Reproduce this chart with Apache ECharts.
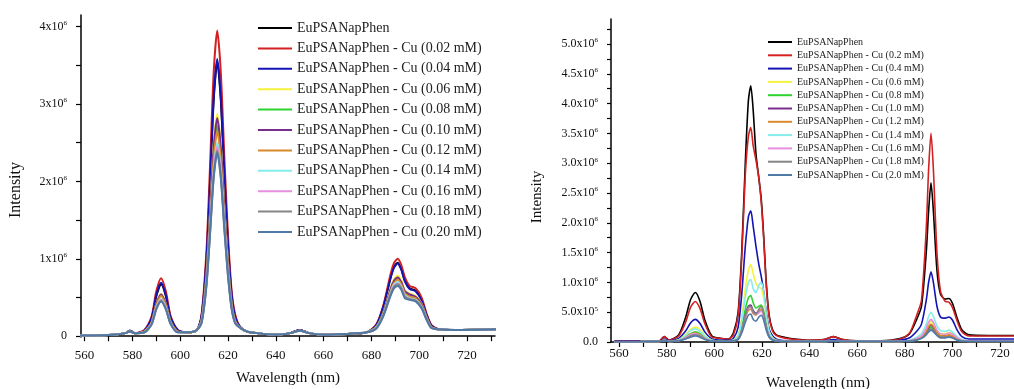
<!DOCTYPE html>
<html>
<head>
<meta charset="utf-8">
<script src="https://cdn.jsdelivr.net/npm/echarts@6/dist/echarts.min.js"></script>
<style>
  html, body { margin: 0; background: #fff; }
  #main { width: 1014px; height: 389px; }
</style>
</head>
<body>
<div id="main"></div>
<script>
// intensities are in units of 1e4 counts

// left panel: Cu 0.02 - 0.20 mM
const wlLeft = [558,565,572,577,579,581,585,588,590,592,594,596,599,603,607,609,611,612.5,614,615.5,617,618.5,620,621.5,623,625,628,632,640,646,650,654,660,670,678,682,685,688,689.5,691,692.5,694,696,698.5,701,703,705,708,715,733];
const leftPure = [1,1,2,4,7,4,7,22,52,67,52,23,7,5,8,27,99,199,305,355,305,206,117,53,25,12,6,4,2,4,8,4,2,3,5,14,38,76,90,95,87,72,62,59,47,28,14,9,8,9];
const left002 = [1,1,2,4,7,4,8,25,58,75,58,26,8,5,8,30,111,221,340,395,340,229,130,59,28,12,6,4,2,4,8,4,2,3,5,15,40,80,95,100,92,76,65,62,50,30,15,9,8,9];
const left004 = [1,1,2,4,7,4,7,23,53,69,53,24,8,5,8,27,100,200,308,358,308,208,118,54,25,12,6,4,2,4,8,4,2,3,5,14,38,75,89,94,86,71,61,58,46,28,14,9,8,9];
const left006 = [1,1,2,4,6,4,6,18,42,55,42,19,6,5,8,22,80,161,247,287,247,166,95,43,20,11,6,4,2,4,7,4,2,3,5,12,31,62,74,78,72,59,55,52,42,25,12,9,8,9];
const left008 = [1,1,2,4,6,4,5,17,41,53,41,19,6,5,8,21,76,152,234,272,234,158,90,41,19,11,6,4,2,4,7,4,2,3,5,11,30,59,70,74,68,56,53,50,40,24,12,9,8,9];
const left010 = [1,1,2,4,6,4,5,18,42,54,42,19,6,5,8,21,79,158,243,282,243,164,93,42,20,11,6,4,2,4,7,4,2,3,5,11,30,61,72,76,70,58,54,51,41,24,12,9,8,9];
const left012 = [1,1,2,4,6,4,5,17,40,52,40,18,6,5,8,20,74,148,228,265,228,154,87,40,19,11,6,4,2,4,7,4,2,3,5,11,29,58,69,73,67,55,51,49,39,24,12,9,8,9];
const left014 = [1,1,2,4,6,4,5,16,37,48,37,17,5,5,8,19,70,140,215,250,215,145,83,38,18,11,6,4,2,4,7,4,2,3,5,11,28,56,67,70,64,53,49,47,38,23,11,9,8,9];
const left016 = [1,1,2,4,6,4,5,16,36,47,36,16,5,5,8,19,69,137,211,245,211,142,81,37,17,11,6,4,2,4,7,4,2,3,5,10,27,54,65,68,63,52,48,46,37,22,11,9,8,9];
const left018 = [1,1,2,4,6,4,5,15,35,46,35,16,5,5,8,18,67,134,206,240,206,139,79,36,17,11,6,4,2,4,7,4,2,3,5,10,27,54,64,67,62,51,48,46,37,22,11,9,8,9];
const left020 = [1,1,2,4,6,4,5,15,35,45,35,16,5,5,8,18,66,133,204,237,204,137,78,36,17,11,6,4,2,4,7,4,2,3,5,10,26,52,62,65,60,49,47,45,36,22,11,9,8,9];

// right panel: Cu 0.2 - 2.0 mM
const wlRight = [558,565,572,577,579,581, 585,588,590,592,594,596,599, 603,606,608,610,611.5,613,614.3,615.3,616.3,617.5,618.7,619.7,620.7,621.8,623,624.5,626,628,632, 640,646,650,654,660,670,678, 682,685,687,689,690,691,692,693.5,695,697,698.5,700,702,704,707,715,733];
const rightPure = [1,1,1,2,9,3, 12,42,71,83,68,37,10, 6,5,15,50,150,300,405,430,390,315,275,240,180,100,45,20,12,9,6, 3,4,9,4,2,2,6, 14,38,60,150,220,267,220,120,80,72,73,65,40,20,12,11,11];
const right02 = [1,1,1,2,9,3, 10,34,58,68,56,31,8, 6,5,12,45,140,280,345,360,330,305,275,235,175,95,42,18,11,8,5, 3,4,9,4,2,2,5, 15,45,70,190,290,350,290,150,85,68,67,58,35,17,10,10,10];
const right04 = [1,1,1,1,5,2, 6,19,32,38,31,17,5, 3,3,6,25,80,160,210,220,195,160,130,110,85,50,22,10,5,3,2, 1,2,4,2,1,1,3, 7,18,30,70,100,118,100,60,42,40,42,37,20,9,5,5,5];
const right06 = [0,0,1,1,3,1, 4,13,21,25,21,11,3, 2,2,3,12,40,90,120,130,115,98,92,90,75,45,18,7,3,2,1, 1,1,2,1,1,1,1, 2,6,10,21,30,35,30,19,14,14,16,14,7,3,2,2,2];
const right08 = [0,0,1,1,3,1, 3,9,14,17,14,8,2, 2,2,2,7,25,55,74,78,66,57,60,62,52,30,12,5,2,1,1, 1,1,2,1,1,1,1, 2,4,7,15,21,25,21,13,9,9,10,8,4,2,1,1,1];
const right10 = [0,0,1,1,3,1, 2,7,11,13,11,6,2, 2,2,2,6,20,45,60,62,53,48,52,55,45,26,10,4,2,1,1, 1,1,2,1,1,1,1, 2,5,8,17,24,28,24,15,10,10,11,9,5,2,1,1,1];
const right12 = [0,0,1,1,3,1, 2,8,13,15,12,7,2, 2,2,2,5,18,40,53,55,48,45,50,55,45,25,10,4,2,1,1, 1,1,2,1,1,1,1, 2,5,8,18,26,30,26,16,11,10,12,10,5,2,1,1,1];
const right14 = [0,0,1,1,3,1, 3,11,19,22,18,10,3, 2,2,3,10,35,75,100,105,90,83,95,100,85,45,17,6,3,2,1, 1,1,2,1,1,1,1, 3,8,14,30,43,50,43,27,19,18,20,17,9,4,2,2,2];
const right16 = [0,0,1,1,3,1, 2,7,12,14,11,6,2, 2,2,2,5,19,42,56,58,50,46,49,52,43,24,10,4,2,1,1, 1,1,2,1,1,1,1, 2,6,10,23,33,38,33,20,14,13,15,13,7,3,2,2,2];
const right18 = [0,0,1,1,3,1, 2,6,10,12,10,5,2, 2,2,2,5,19,43,58,60,50,47,55,60,48,26,10,4,2,1,1, 1,1,2,1,1,1,1, 2,4,6,13,19,22,19,12,8,8,9,7,4,2,1,1,1];
const right20 = [0,0,1,1,2,1, 2,5,8,10,8,4,1, 1,1,2,4,15,33,45,47,38,35,42,45,37,20,8,3,2,1,1, 1,1,1,1,1,1,1, 1,3,6,12,17,20,17,11,7,7,8,7,3,1,1,1,1];

const leftNames = ['EuPSANapPhen','EuPSANapPhen - Cu (0.02 mM)','EuPSANapPhen - Cu (0.04 mM)','EuPSANapPhen - Cu (0.06 mM)','EuPSANapPhen - Cu (0.08 mM)','EuPSANapPhen - Cu (0.10 mM)','EuPSANapPhen - Cu (0.12 mM)','EuPSANapPhen - Cu (0.14 mM)','EuPSANapPhen - Cu (0.16 mM)','EuPSANapPhen - Cu (0.18 mM)','EuPSANapPhen - Cu (0.20 mM)'];
const rightNames = ['EuPSANapPhen','EuPSANapPhen - Cu (0.2 mM)','EuPSANapPhen - Cu (0.4 mM)','EuPSANapPhen - Cu (0.6 mM)','EuPSANapPhen - Cu (0.8 mM)','EuPSANapPhen - Cu (1.0 mM)','EuPSANapPhen - Cu (1.2 mM)','EuPSANapPhen - Cu (1.4 mM)','EuPSANapPhen - Cu (1.6 mM)','EuPSANapPhen - Cu (1.8 mM)','EuPSANapPhen - Cu (2.0 mM)'];
const colors = ['#000000','#d42020','#1414b4','#f6f23c','#2ed42e','#7a2e8c','#d98a2a','#84ecec','#e78ee0','#858585','#4f7aa6'];

const xTickValues = [560,570,580,590,600,610,620,630,640,650,660,670,680,690,700,710,720,730];
const xLabelValues = [560,580,600,620,640,660,680,700,720];
const leftYTicks = [0,50,100,150,200,250,300,350,400];
const leftYLabels = [0,100,200,300,400];
const rightYTicks = [0,25,50,75,100,125,150,175,200,225,250,275,300,325,350,375,400,425,450,475,500,525];
const rightYLabels = [0,50,100,150,200,250,300,350,400,450,500];

const serif = 'Liberation Serif';
const leftData = [leftPure,left002,left004,left006,left008,left010,left012,left014,left016,left018,left020];
const rightData = [rightPure,right02,right04,right06,right08,right10,right12,right14,right16,right18,right20];

function mkSeries(name, wl, vals, color, idx, width) {
  return {
    type: 'line', name: name, xAxisIndex: idx, yAxisIndex: idx,
    data: wl.map((w, i) => [w, vals[i]]),
    symbol: 'none', smooth: 0.25,
    lineStyle: { color: color, width: width },
    itemStyle: { color: color },
    animation: false
  };
}

const series = [];
leftData.forEach((d, i) => series.push(mkSeries(leftNames[i], wlLeft, d, colors[i], 0, 2)));
rightData.forEach((d, i) => series.push(mkSeries(rightNames[i], wlRight, d, colors[i], 1, 1.6)));

function xAxis(idx, min, max, margin) {
  return {
    type: 'value', gridIndex: idx, min: min, max: max,
    splitLine: { show: false },
    axisLine: { lineStyle: { color: '#000', width: 1.5 } },
    axisTick: { length: 5, customValues: xTickValues, lineStyle: { color: '#000', width: 1.2 } },
    axisLabel: { customValues: xLabelValues, margin: margin, color: '#111', fontFamily: serif, fontSize: 13 }
  };
}

const rich = { s: { fontSize: 7, fontFamily: serif, color: '#111', padding: [0, 0, 7, 0] } };

const option = {
  backgroundColor: '#fff',
  animation: false,
  grid: [
    { left: 81, top: 15, width: 414, bottom: 52, outerBoundsMode: 'none' },
    { left: 611, top: 19, width: 420, bottom: 47, outerBoundsMode: 'none' }
  ],
  xAxis: [ xAxis(0, 558.5, 731.7, 12), xAxis(1, 556.6, 733, 5) ],
  yAxis: [
    {
      type: 'value', gridIndex: 0, min: -1, max: 415,
      splitLine: { show: false },
      axisLine: { show: true, lineStyle: { color: '#000', width: 1.5 } },
      axisTick: { show: true, length: 5, customValues: leftYTicks, lineStyle: { color: '#000', width: 1.2 } },
      axisLabel: {
        customValues: leftYLabels, margin: 14, color: '#111', fontFamily: serif, fontSize: 12, rich: rich,
        formatter: v => v === 0 ? '0' : (v / 100) + 'x10{s|6}'
      }
    },
    {
      type: 'value', gridIndex: 1, min: 0, max: 542,
      splitLine: { show: false },
      axisLine: { show: true, lineStyle: { color: '#000', width: 1.5 } },
      axisTick: { show: true, length: 4, customValues: rightYTicks, lineStyle: { color: '#000', width: 1.2 } },
      axisLabel: {
        customValues: rightYLabels, margin: 13, color: '#111', fontFamily: serif, fontSize: 12, rich: rich,
        formatter: v => v === 0 ? '0.0' : (v === 50 ? '5.0x10{s|5}' : (v / 100).toFixed(1) + 'x10{s|6}')
      }
    }
  ],
  legend: [
    {
      data: leftNames, orient: 'vertical', left: 258, top: 21, padding: 0, icon: 'rect',
      itemWidth: 34, itemHeight: 2, itemGap: 6.4, selectedMode: false,
      textStyle: { fontFamily: serif, fontSize: 14, color: '#222', lineHeight: 14 }
    },
    {
      data: rightNames, orient: 'vertical', left: 768, top: 37, padding: 0, icon: 'rect',
      itemWidth: 24, itemHeight: 2, itemGap: 3.3, selectedMode: false,
      textStyle: { fontFamily: serif, fontSize: 10, color: '#222', lineHeight: 10 }
    }
  ],
  graphic: [
    { type: 'text', x: 16, y: 190, rotation: Math.PI / 2,
      style: { text: 'Intensity', fontFamily: serif, fontSize: 16, fill: '#111', align: 'center', verticalAlign: 'middle' } },
    { type: 'text', x: 288, y: 378,
      style: { text: 'Wavelength (nm)', fontFamily: serif, fontSize: 15, fill: '#111', align: 'center', verticalAlign: 'middle' } },
    { type: 'text', x: 537, y: 197, rotation: Math.PI / 2,
      style: { text: 'Intensity', fontFamily: serif, fontSize: 15, fill: '#111', align: 'center', verticalAlign: 'middle' } },
    { type: 'text', x: 818, y: 383,
      style: { text: 'Wavelength (nm)', fontFamily: serif, fontSize: 15, fill: '#111', align: 'center', verticalAlign: 'middle' } }
  ],
  series: series
};

const chart = echarts.init(document.getElementById('main'));
chart.setOption(option);
</script>
</body>
</html>
